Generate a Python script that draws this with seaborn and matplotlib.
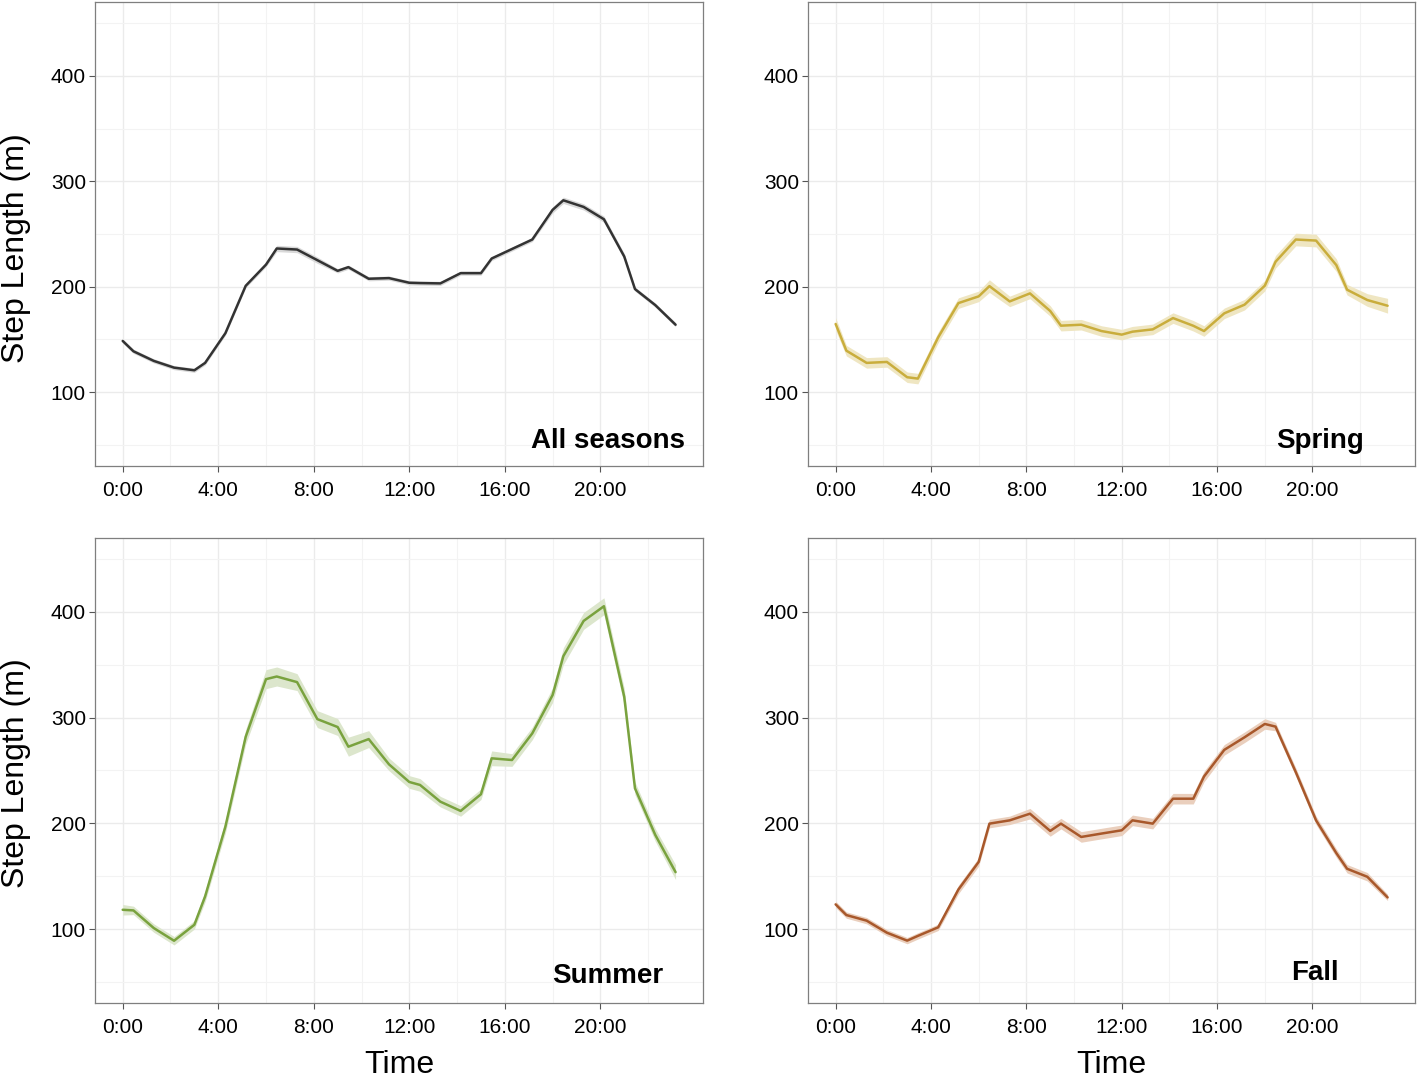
import numpy as np
import matplotlib
matplotlib.use("Agg")
import matplotlib.pyplot as plt
import seaborn as sns

# hours of day at which the mean step length was estimated
hours = [0, 0.45, 1.3, 2.15, 3.0, 3.45, 4.3, 5.15, 6.0, 6.45, 7.3, 8.15, 9.0, 9.45,
         10.3, 11.15, 12.0, 12.45, 13.3, 14.15, 15.0, 15.45, 16.3, 17.15, 18.0,
         18.45, 19.3, 20.15, 21.0, 21.45, 22.3, 23.15]

# mean step length (m) per season
all_seasons = [148.6, 138.8, 129.7, 123.3, 120.8, 127.8, 156.0, 200.9, 221.0, 236.3,
               235.3, 225.2, 215.1, 218.6, 207.6, 208.2, 203.8, 203.5, 203.2, 212.9,
               212.9, 226.8, 235.8, 244.8, 272.9, 282.0, 275.7, 264.0, 228.7, 197.8,
               182.6, 164.0]
spring = [164.7, 139.4, 127.8, 128.7, 114.2, 112.9, 152.0, 184.5, 190.9, 200.6,
          186.1, 193.7, 177.0, 163.1, 164.0, 158.0, 154.6, 157.4, 159.6, 170.3,
          163.0, 158.0, 174.8, 183.0, 201.0, 223.7, 244.8, 243.8, 220.5, 197.2,
          187.4, 182.0]
summer = [118.2, 117.6, 100.9, 88.9, 104.0, 130.8, 196.9, 281.9, 336.4, 338.9,
          333.6, 298.6, 291.1, 272.5, 279.7, 255.8, 239.1, 236.3, 220.5, 211.7,
          227.5, 261.5, 259.9, 285.1, 321.3, 358.1, 391.5, 405.4, 319.7, 233.1,
          189.0, 153.8]
fall = [123.3, 113.2, 107.9, 96.5, 89.0, 93.5, 101.6, 137.4, 163.5, 199.7,
        202.8, 209.1, 192.8, 199.7, 187.1, 190.3, 193.4, 202.8, 199.7, 223.3,
        223.3, 244.3, 269.5, 281.4, 294.0, 291.5, 248.4, 202.8, 171.8, 157.0,
        149.4, 129.9]

# half width of the confidence band
all_ci = [2, 2, 2, 2, 2, 2, 2, 2, 2, 3, 3, 3, 2, 2, 2, 2, 2, 2, 2, 2, 2, 2, 2, 2,
          3, 3, 3, 3, 3, 2, 2, 2]
spring_ci = [6, 5, 5, 5, 5, 5, 5, 5, 5, 6, 5, 5, 5, 5, 5, 5, 5, 5, 5, 5, 5, 5, 5, 5,
             5, 6, 6, 6, 6, 5, 6, 7]
summer_ci = [5, 4, 4, 4, 4, 5, 6, 7, 9, 9, 8, 8, 8, 9, 8, 6, 6, 6, 5, 5, 5, 7, 6, 6,
             7, 8, 8, 8, 8, 6, 6, 7]
fall_ci = [3, 3, 3, 3, 3, 3, 3, 4, 4, 4, 4, 5, 5, 5, 5, 5, 5, 5, 5, 5, 5, 5, 5, 5,
           5, 4, 4, 4, 4, 4, 4, 3]

panels = ["All seasons", "Spring", "Summer", "Fall"]
line_colors = ["#333333", "#C9AD3C", "#79A23E", "#A8582B"]
band_colors = ["#D9D9D9", "#EFE6C2", "#DCE6CC", "#EACFBD"]

xticks = [0, 4, 8, 12, 16, 20]
xlabels = ["0:00", "4:00", "8:00", "12:00", "16:00", "20:00"]
yticks = [100, 200, 300, 400]

sns.set_theme(style="white")
plt.rcParams["font.family"] = ["Liberation Sans", "DejaVu Sans"]

fig = plt.figure(figsize=(14.18, 10.8), dpi=100)
positions = [
    [0.067, 0.5685, 0.4288, 0.4296],
    [0.5698, 0.5685, 0.4281, 0.4296],
    [0.067, 0.0713, 0.4288, 0.4306],
    [0.5698, 0.0713, 0.4281, 0.4306],
]
ylab_pos = [0.47, None, 0.495, None]
title_x = [20.3, 20.3, 20.3, 20.1]
title_y = [54, 54, 56, 58]

series = [all_seasons, spring, summer, fall]
cis = [all_ci, spring_ci, summer_ci, fall_ci]

for i in range(4):
    ax = fig.add_axes(positions[i])
    y = np.array(series[i])
    ci = np.array(cis[i])
    ax.fill_between(hours, y - ci, y + ci, color=band_colors[i], lw=0, zorder=2)
    sns.lineplot(x=hours, y=series[i], ax=ax, color=line_colors[i], lw=1.8, zorder=3)

    ax.set_xlim(-1.16, 24.3)
    ax.set_ylim(30, 470)
    ax.set_xticks(xticks)
    ax.set_xticklabels(xlabels)
    ax.set_xticks([2, 6, 10, 14, 18, 22], minor=True)
    ax.set_yticks(yticks)
    ax.set_yticks([50, 150, 250, 350, 450], minor=True)
    ax.grid(which="major", color="#EBEBEB", lw=1.0, zorder=0)
    ax.grid(which="minor", color="#F3F3F3", lw=0.8, zorder=0)
    ax.set_axisbelow(True)
    ax.tick_params(which="major", direction="out", length=4, width=0.8,
                   color="#555555", labelsize=15, labelcolor="black",
                   bottom=True, left=True)
    ax.tick_params(axis="x", which="major", pad=7)
    ax.tick_params(axis="y", which="major", pad=2.5)
    ax.tick_params(which="minor", length=0)
    for sp in ax.spines.values():
        sp.set_color("#7F7F7F")
        sp.set_linewidth(0.9)

    ax.text(title_x[i], title_y[i], panels[i], ha="center", va="center",
            fontsize=20, fontweight="bold", color="black")

    if ylab_pos[i] is not None:
        ax.set_ylabel("Step Length (m)", fontsize=23, color="black")
        ax.yaxis.set_label_coords(-0.106, ylab_pos[i])
    else:
        ax.set_ylabel("")
    if i in (2, 3):
        ax.set_xlabel("Time", fontsize=23, color="black", labelpad=9)
    else:
        ax.set_xlabel("")

fig.savefig("out.png", dpi=100)
